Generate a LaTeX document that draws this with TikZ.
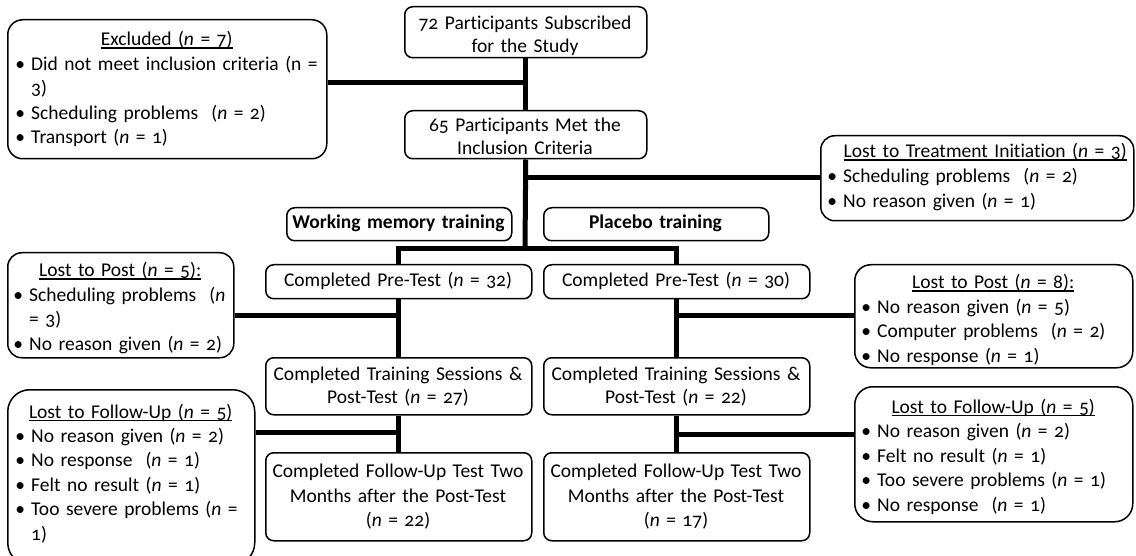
\documentclass[tikz,border=0pt]{standalone}
\usepackage{fontspec}
\setmainfont{Carlito}[Numbers=OldStyle, Ligatures=NoCommon]
% italic sample size symbol
\newcommand{\Nit}{\textit{n}}
% bullet line and its hanging continuation
\newcommand{\bline}[1]{\hspace*{6pt}\makebox[12pt]{\textbullet}\hspace*{5pt}#1}
\newcommand{\contline}[1]{\hspace*{23pt}#1}
% centred, underlined heading of a given width
\newcommand{\ttl}[2]{\makebox[#1][c]{\setbox0\hbox{#2}\rlap{\rule[-2.6pt]{\wd0}{1.1pt}}\box0}}
\begin{document}
\begin{tikzpicture}[x=1pt,y=-1pt,
  box/.style={draw, line width=1.5pt, inner sep=0pt, anchor=north west},
  conn/.style={line width=5pt, line join=miter},
  maintext/.style={anchor=base, inner sep=0pt, align=center, text width=300pt,
    font=\fontsize{19.5}{23}\selectfont},
  boldtext/.style={maintext, font=\fontsize{19.5}{23}\selectfont\bfseries},
  listtext/.style={anchor=base west, inner sep=0pt, align=left, text width=340pt,
    font=\fontsize{19.5}{24.5}\selectfont},
]
\useasboundingbox (0,0) rectangle (1136,556);

% ---- flow boxes ----
\node[box, rounded corners=8pt, minimum width=242pt, minimum height=51pt] (s72) at (404,6) {};
\node[box, rounded corners=8pt, minimum width=242pt, minimum height=48pt] (s65) at (404,110) {};
\node[box, rounded corners=8pt, minimum width=225pt, minimum height=33pt] (wm) at (286,207) {};
\node[box, rounded corners=8pt, minimum width=225pt, minimum height=33pt] (pl) at (543,207) {};
\node[box, rounded corners=8pt, minimum width=266pt, minimum height=34pt] (pre1) at (265,264) {};
\node[box, rounded corners=8pt, minimum width=266pt, minimum height=34pt] (pre2) at (543,264) {};
\node[box, rounded corners=8pt, minimum width=266pt, minimum height=57pt] (tr1) at (265,357) {};
\node[box, rounded corners=8pt, minimum width=266pt, minimum height=57pt] (tr2) at (543,357) {};
\node[box, rounded corners=8pt, minimum width=266pt, minimum height=88pt] (fu1) at (265,452) {};
\node[box, rounded corners=8pt, minimum width=266pt, minimum height=88pt] (fu2) at (543,452) {};

% ---- drop-out boxes ----
\node[box, rounded corners=15pt, minimum width=319pt, minimum height=139pt] (excl) at (7,19) {};
\node[box, rounded corners=14pt, minimum width=313pt, minimum height=85pt] (treat) at (820,135) {};
\node[box, rounded corners=14pt, minimum width=226pt, minimum height=105pt] (lpL) at (7,252) {};
\node[box, rounded corners=22pt, minimum width=247pt, minimum height=175pt] (lfL) at (7,389) {};
\node[box, rounded corners=16pt, minimum width=278pt, minimum height=103pt] (lpR) at (854,264) {};
\node[box, rounded corners=18pt, minimum width=278pt, minimum height=135pt] (lfR) at (854,386) {};

% ---- flow box texts ----
\node[maintext] (s72t) at (525,30) {72 Participants Subscribed\\for the Study};
\node[maintext] (s65t) at (525,131.7) {65 Participants Met the\\Inclusion Criteria};
\node[boldtext] (wmt) at (398.5,229) {Working memory training};
\node[boldtext] (plt) at (655.5,229) {Placebo training};
\node[maintext] (pre1t) at (398,287) {Completed Pre-Test (\Nit{} = 32)};
\node[maintext] (pre2t) at (676,287) {Completed Pre-Test (\Nit{} = 30)};
\node[maintext] (tr1t) at (398,380.3) {Completed Training Sessions \&\\Post-Test (\Nit{} = 27)};
\node[maintext] (tr2t) at (676,380.3) {Completed Training Sessions \&\\Post-Test (\Nit{} = 22)};
\node[maintext, font=\fontsize{19.5}{24.4}\selectfont] (fu1t) at (398,477.6)
  {Completed Follow-Up Test Two\\Months after the Post-Test\\(\Nit{} = 22)};
\node[maintext, font=\fontsize{19.5}{24.4}\selectfont] (fu2t) at (676,477.6)
  {Completed Follow-Up Test Two\\Months after the Post-Test\\(\Nit{} = 17)};

% ---- drop-out texts ----
\node[listtext] (exclt) at (8,46) {\ttl{317pt}{Excluded (\Nit{} = 7)}\\
  \bline{Did not meet inclusion criteria (n =}\\
  \contline{3)}\\
  \bline{Scheduling problems\ \ (\Nit{} = 2)}\\
  \bline{Transport (\Nit{} = 1)}};

\node[listtext, font=\fontsize{19.5}{25}\selectfont] (treatt) at (820,158) {\ttl{330pt}{Lost to Treatment Initiation (\Nit{} = 3)}\\
  \bline{Scheduling problems\ \ (\Nit{} = 2)}\\
  \bline{No reason given (\Nit{} = 1)}};

\begin{scope}
  \clip[rounded corners=14pt] (lpL.north west) rectangle (lpL.south east);
  \node[listtext] (lpLt) at (6,277) {\ttl{228pt}{Lost to Post (\Nit{} = 5):}\\
    \bline{Scheduling problems\ \ (\Nit}\\
    \contline{= 3)}\\
    \bline{No reason given (\Nit{} = 2)}};
\end{scope}

\node[listtext, font=\fontsize{19.5}{24.4}\selectfont] (lfLt) at (8,418) {\ttl{245pt}{Lost to Follow-Up (\Nit{} = 5)}\\
  \bline{No reason given (\Nit{} = 2)}\\
  \bline{No response\ \ (\Nit{} = 1)}\\
  \bline{Felt no result (\Nit{} = 1)}\\
  \bline{Too severe problems (\Nit{} =}\\
  \contline{1)}};

\begin{scope}
  \clip[rounded corners=16pt] (lpR.north west) rectangle (lpR.south east);
  \node[listtext] (lpRt) at (854,289) {\ttl{278pt}{Lost to Post (\Nit{} = 8):}\\
    \bline{No reason given (\Nit{} = 5)}\\
    \bline{Computer problems\ \ (\Nit{} = 2)}\\
    \bline{No response (\Nit{} = 1)}};
\end{scope}

\node[listtext] (lfRt) at (854,413) {\ttl{278pt}{Lost to Follow-Up (\Nit{} = 5)}\\
  \bline{No reason given (\Nit{} = 2)}\\
  \bline{Felt no result (\Nit{} = 1)}\\
  \bline{Too severe problems (\Nit{} = 1)}\\
  \bline{No response\ \ (\Nit{} = 1)}};

% ---- connectors ----
\coordinate (j1) at (525,83);
\coordinate (j2) at (525,178);
\coordinate (jsplit) at (525,249);
\coordinate (j3) at (398,316);
\coordinate (j4) at (676,315.5);
\coordinate (j5) at (398,432);
\coordinate (j6) at (676,434);

\draw[conn] (s72.south) -- (s65.north);
\draw[conn] (excl.east |- j1) -- (j1);
\draw[conn] (s65.south) -- (jsplit);
\draw[conn] (treat.west |- j2) -- (j2);
\draw[conn] (pre1.north) -- (pre1.north |- jsplit) -- (pre2.north |- jsplit) -- (pre2.north);
\draw[conn] (pre1.south) -- (tr1.north);
\draw[conn] (lpL.east |- j3) -- (j3);
\draw[conn] (pre2.south) -- (tr2.north);
\draw[conn] (lpR.west |- j4) -- (j4);
\draw[conn] (tr1.south) -- (fu1.north);
\draw[conn] (lfL.east |- j5) -- (j5);
\draw[conn] (tr2.south) -- (fu2.north);
\draw[conn] (lfR.west |- j6) -- (j6);
\end{tikzpicture}
\end{document}
